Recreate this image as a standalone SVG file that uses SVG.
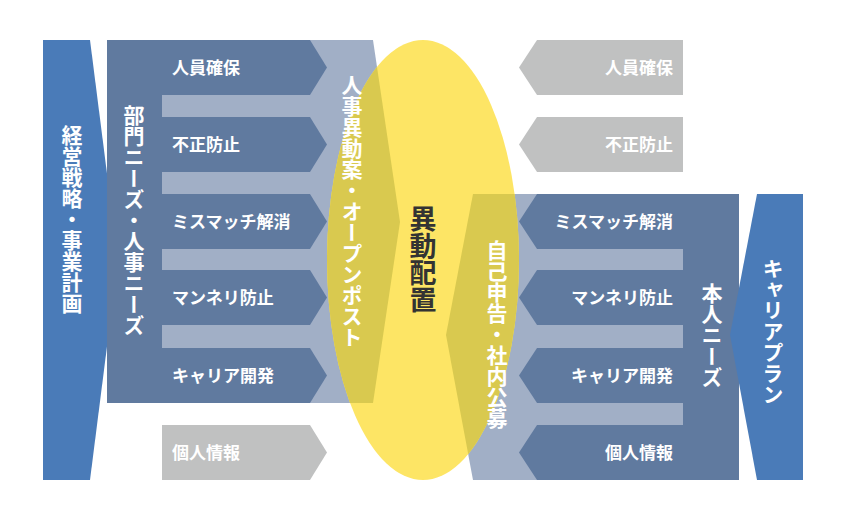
<svg xmlns="http://www.w3.org/2000/svg" width="846" height="516" viewBox="0 0 846 516">
<style>
.blue{fill:#4a7bb8}.slate{fill:#607a9f}.light{fill:#a1afc6}.gray{fill:#c0c1c1}.olive{fill:#d9c94f}
.t{font-family:"Noto Sans CJK JP","Noto Sans",sans-serif;font-weight:bold;fill:#fff;font-size:17px}
.v{font-family:"Noto Sans CJK JP","Noto Sans",sans-serif;font-weight:bold;fill:#fff;font-size:21px;writing-mode:vertical-rl}
</style>
<defs><clipPath id="ec"><ellipse cx="423" cy="260" rx="96" ry="220"/></clipPath></defs>
<g id="bg">
<polygon class="light" points="162,40 373,40 400,222 373,403 162,403"/>
<polygon class="light" points="473,194 683,194 683,480 473,480 446,335"/>
<ellipse cx="423" cy="260" rx="96" ry="220" fill="#fde565"/>
<g clip-path="url(#ec)">
<polygon class="olive" points="162,40 373,40 400,222 373,403 162,403"/>
<polygon class="olive" points="473,194 683,194 683,480 473,480 446,335"/>
</g>
</g>
<g id="keiei"><polygon class="blue" points="43,40 90,40 118,260 90,480 43,480"/><text class="v" x="72" y="125">経営戦略・事業計画</text></g>
<g id="bumon">
<rect class="slate" x="107" y="40" width="55" height="363"/>
<text class="v" x="134" y="105">部門ニーズ・人事ニーズ</text>
</g>
<g id="left-rows">
<polygon class="slate" points="160,40 310,40 327,67.5 310,95 160,95"/><text class="t" x="172" y="74">人員確保</text>
<polygon class="slate" points="160,117 310,117 327,144.5 310,172 160,172"/><text class="t" x="172" y="151">不正防止</text>
<polygon class="slate" points="160,194 310,194 327,221.5 310,249 160,249"/><text class="t" x="172" y="228">ミスマッチ解消</text>
<polygon class="slate" points="160,270 310,270 327,297.5 310,325 160,325"/><text class="t" x="172" y="304">マンネリ防止</text>
<polygon class="slate" points="160,348 310,348 327,375.5 310,403 160,403"/><text class="t" x="172" y="382">キャリア開発</text>
<polygon class="gray" points="162,425 310,425 327,452.5 310,480 162,480"/><text class="t" x="172" y="459">個人情報</text>
</g>
<g id="anken"><text class="v" x="352" y="75">人事異動案・オープンポスト</text></g>
<g id="haichi"><text class="v" x="423" y="205" style="fill:#333;font-size:27px">異動配置</text></g>
<g id="jiko"><text class="v" x="497" y="240">自己申告・社内公募</text></g>
<g id="right-rows">
<polygon class="gray" points="537,40 683,40 683,95 537,95 519,67.5"/><text class="t" x="673" y="74" text-anchor="end">人員確保</text>
<polygon class="gray" points="537,117 683,117 683,172 537,172 519,144.5"/><text class="t" x="673" y="151" text-anchor="end">不正防止</text>
<polygon class="slate" points="537,194 685,194 685,249 537,249 519,221.5"/><text class="t" x="673" y="228" text-anchor="end">ミスマッチ解消</text>
<polygon class="slate" points="537,270 685,270 685,325 537,325 519,297.5"/><text class="t" x="673" y="304" text-anchor="end">マンネリ防止</text>
<polygon class="slate" points="537,348 685,348 685,403 537,403 519,375.5"/><text class="t" x="673" y="382" text-anchor="end">キャリア開発</text>
<polygon class="slate" points="537,425 685,425 685,480 537,480 519,452.5"/><text class="t" x="673" y="459" text-anchor="end">個人情報</text>
</g>
<g id="honnin"><rect class="slate" x="683" y="194" width="56" height="286"/><text class="v" x="712" y="283">本人ニーズ</text></g>
<g id="career"><polygon class="blue" points="757,194 803,194 803,480 757,480 730,335"/><text class="v" x="773" y="258">キャリアプラン</text></g>
<g id="connectors"/>
</svg>
